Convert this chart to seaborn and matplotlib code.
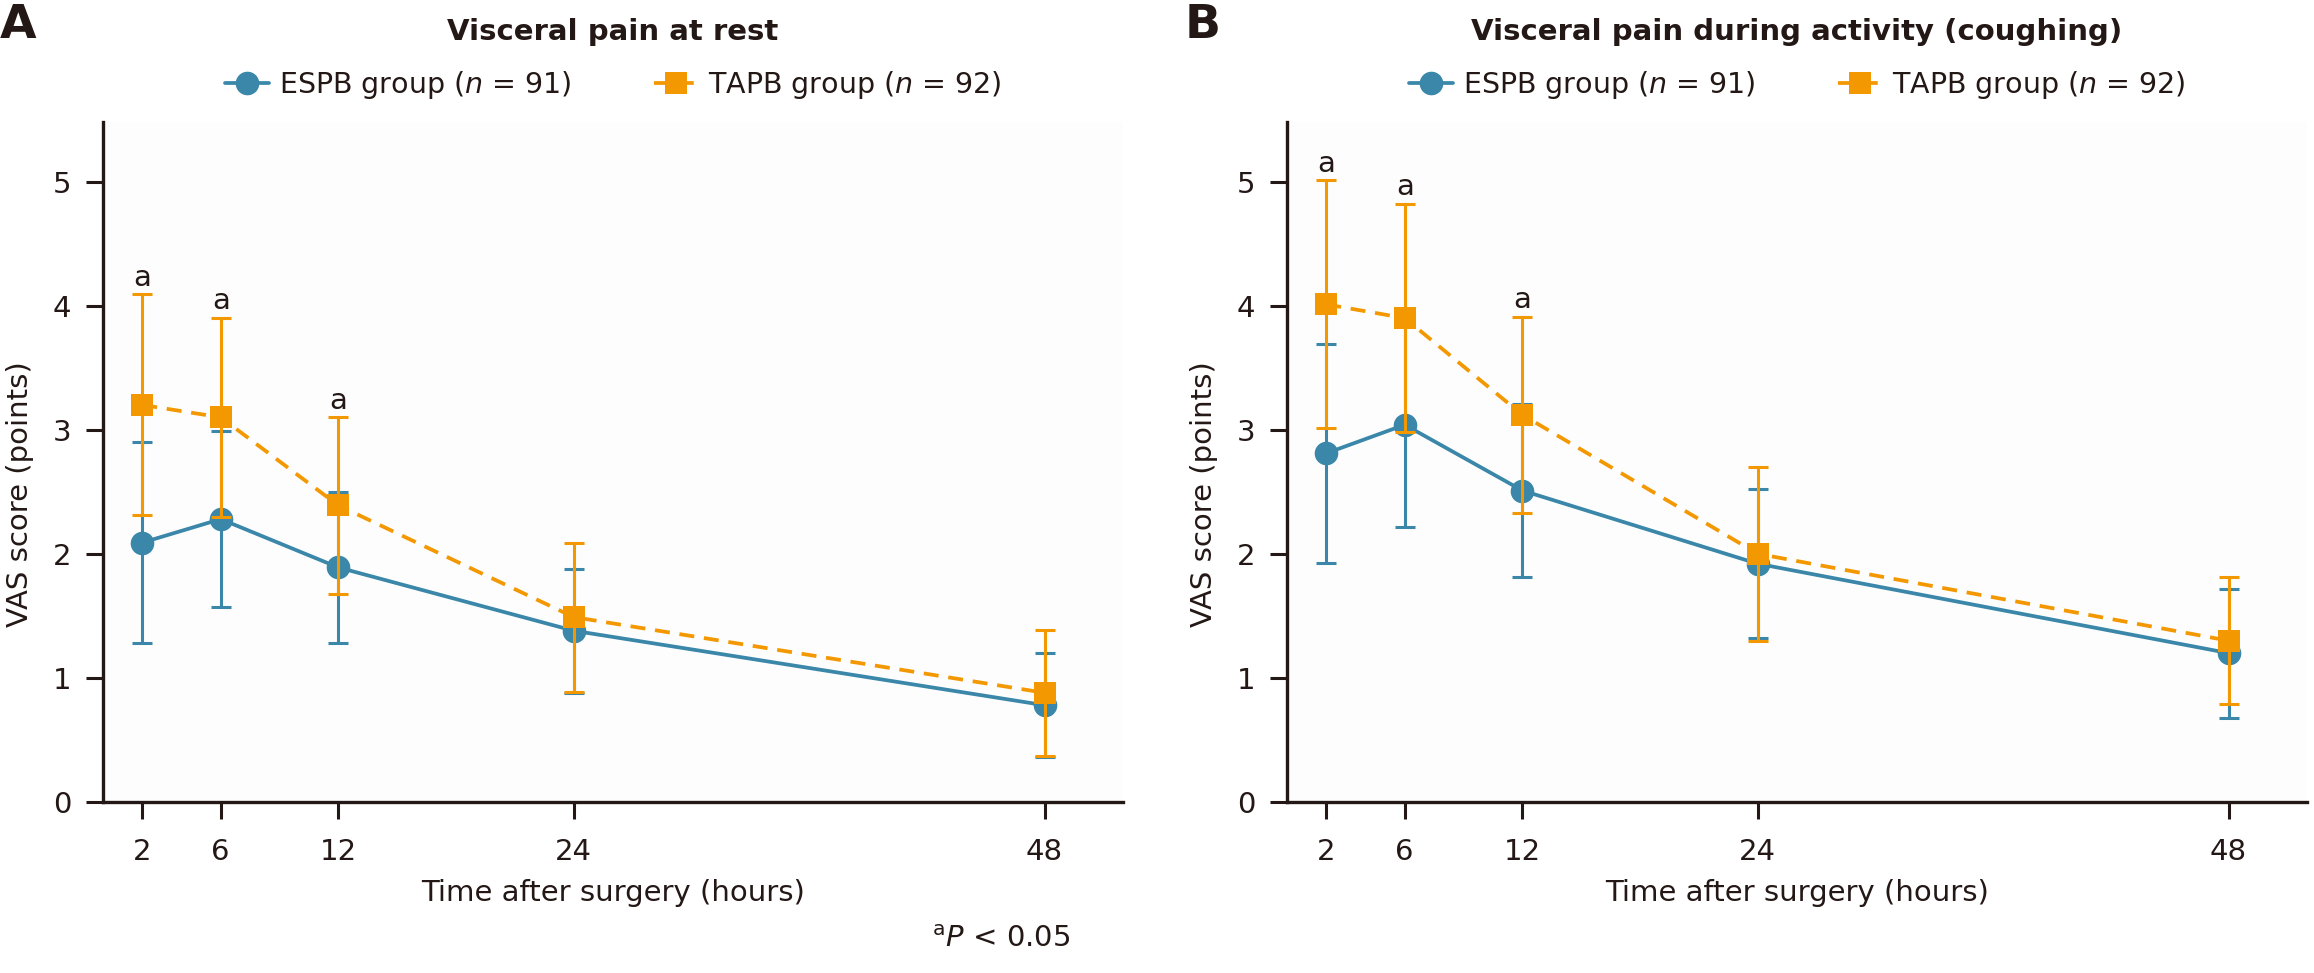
import matplotlib
matplotlib.use("Agg")
import matplotlib.pyplot as plt
import seaborn as sns
import pandas as pd
import numpy as np

# ---------------- data ----------------
hours = [2, 6, 12, 24, 48]
groups = ["ESPB", "TAPB"]
legend_labels = [r"ESPB group ($\mathit{n}$ = 91)", r"TAPB group ($\mathit{n}$ = 92)"]

# Panel A: visceral pain at rest (mean, SD)
rest_espb_mean = [2.09, 2.28, 1.89, 1.38, 0.78]
rest_espb_sd = [0.81, 0.71, 0.61, 0.50, 0.42]
rest_tapb_mean = [3.20, 3.10, 2.39, 1.49, 0.88]
rest_tapb_sd = [0.89, 0.80, 0.71, 0.60, 0.51]
rest_sig = [True, True, True, False, False]

# Panel B: visceral pain during activity (coughing)
cough_espb_mean = [2.81, 3.04, 2.51, 1.92, 1.20]
cough_espb_sd = [0.88, 0.82, 0.70, 0.60, 0.52]
cough_tapb_mean = [4.01, 3.90, 3.12, 2.00, 1.30]
cough_tapb_sd = [1.00, 0.92, 0.79, 0.70, 0.51]
cough_sig = [True, True, True, False, False]

titles = ["Visceral pain at rest", "Visceral pain during activity (coughing)"]
panel_letters = ["A", "B"]
y_ticks = [0, 1, 2, 3, 4, 5]

colors = {"ESPB": "#3a87a9", "TAPB": "#f39800"}
markers = {"ESPB": "o", "TAPB": "s"}
msize = {"ESPB": 17, "TAPB": 16}

sns.set_theme(style="ticks")
plt.rcParams["font.family"] = ["DejaVu Sans"]
plt.rcParams["mathtext.fontset"] = "dejavusans"

W, H = 2314, 973
fig = plt.figure(figsize=(W / 100, H / 100), dpi=100)

ax_left_px = [103, 1287]
letter_x_px = [0, 1185]
ax_w_px = 1020
ax_top_px, ax_bot_px = 122, 802

panels = [
    (rest_espb_mean, rest_espb_sd, rest_tapb_mean, rest_tapb_sd, rest_sig),
    (cough_espb_mean, cough_espb_sd, cough_tapb_mean, cough_tapb_sd, cough_sig),
]

FS = 21
ink = "#231815"
for i, (em, es, tm, ts, sig) in enumerate(panels):
    ax = fig.add_axes([ax_left_px[i] / W, 1 - ax_bot_px / H,
                       ax_w_px / W, (ax_bot_px - ax_top_px) / H])
    ax.set_facecolor("#fdfdfd")
    df = pd.DataFrame({
        "time": hours * 2,
        "mean": em + tm,
        "sd": es + ts,
        "group": ["ESPB"] * 5 + ["TAPB"] * 5,
    })
    z = 2
    for g, lab in zip(groups, legend_labels):
        sub = df[df["group"] == g]
        ax.errorbar(sub["time"], sub["mean"], yerr=sub["sd"], fmt="none",
                    ecolor=colors[g], elinewidth=2.2, capsize=7.5,
                    capthick=2.2, zorder=z)
        sns.lineplot(data=sub, x="time", y="mean", ax=ax, color=colors[g],
                     marker=markers[g], markersize=msize[g],
                     markeredgewidth=0, linewidth=2.7,
                     linestyle="-" if g == "ESPB" else (0, (4, 2.6)),
                     label=lab, zorder=z + 0.1, legend=False)
        z += 0.2
    # significance marks
    for h, m, s, flag in zip(hours, tm, ts, sig):
        if flag:
            ax.annotate("a", (h, m + s), xytext=(0, 2), textcoords="offset points",
                        ha="center", va="bottom", fontsize=FS, color=ink)

    ax.set_xlim(0, 52)
    ax.set_ylim(0, 5.48)
    ax.set_xticks(hours)
    ax.set_yticks(y_ticks)
    ax.tick_params(axis="both", labelsize=FS, width=2.2, length=12,
                   color=ink, labelcolor=ink, direction="out")
    ax.tick_params(axis="x", pad=14)
    ax.tick_params(axis="y", pad=11)
    for side in ["top", "right"]:
        ax.spines[side].set_visible(False)
    for side in ["left", "bottom"]:
        ax.spines[side].set_linewidth(2.4)
        ax.spines[side].set_color(ink)
    ax.set_xlabel("Time after surgery (hours)", fontsize=FS, color=ink, labelpad=9)
    ax.set_ylabel("VAS score (points)", fontsize=FS, color=ink)
    ax.yaxis.set_label_coords(-0.068, 0.453)

    handles, labels = ax.get_legend_handles_labels()
    ax.legend(handles=handles, labels=labels, loc="center",
              bbox_to_anchor=(0.5, (ax_bot_px - 85) / (ax_bot_px - ax_top_px)),
              ncol=2, frameon=False, fontsize=20.5, handlelength=1.55,
              handletextpad=0.35, columnspacing=2.9, labelcolor=ink)
    ax.set_title(titles[i], fontsize=21, fontweight="bold", color=ink,
                 pad=0, y=(ax_bot_px - 32) / (ax_bot_px - ax_top_px), va="center")
    fig.text(letter_x_px[i] / W, 1 - 25 / H, panel_letters[i], fontsize=34,
             fontweight="bold", color=ink, ha="left", va="center")

fig.text(1070 / W, 1 - 939 / H, r"$^{\mathrm{a}}\mathit{P}$ < 0.05", fontsize=FS,
         color=ink, ha="right", va="center")

fig.savefig("out.png", dpi=100, facecolor="white")
